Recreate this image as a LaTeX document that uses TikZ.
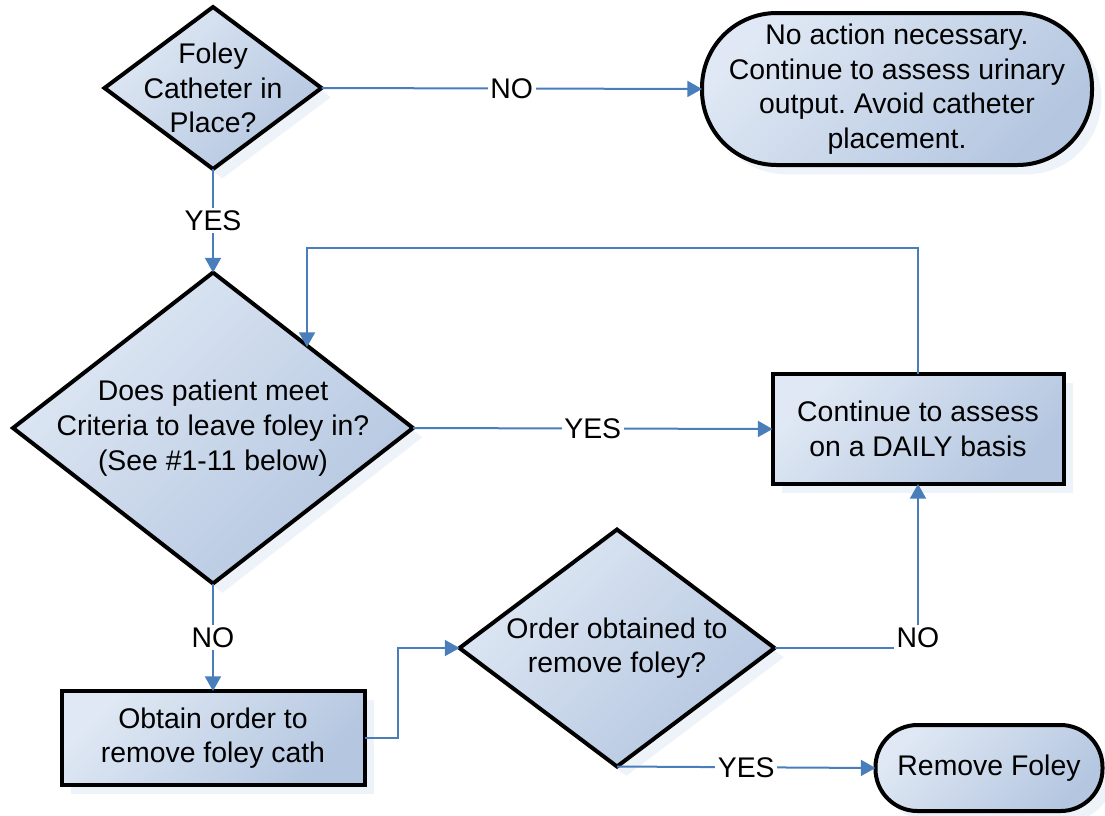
\documentclass[tikz,border=0pt]{standalone}
\usepackage{fontspec}
\setmainfont{Liberation Sans}
\frenchspacing
\usetikzlibrary{shapes.geometric,arrows.meta,shadows}
\definecolor{linec}{HTML}{4A7EBB}
\definecolor{lightc}{HTML}{DFE8F4}
\definecolor{darkc}{HTML}{B4C6E0}
\definecolor{shadowc}{HTML}{EEF2F9}
\begin{document}
\begin{tikzpicture}[x=0.75pt,y=-0.75pt,
  txt/.style={font=\fontsize{21.3}{26}\selectfont, align=center},
  boxbase/.style={draw=black, line width=3pt, outer sep=0pt, inner sep=0pt,
    top color=lightc, bottom color=darkc, shading angle=45,
    drop shadow={fill=shadowc, opacity=1, shadow xshift=7pt, shadow yshift=-7pt}},
  decision/.style={boxbase, diamond, txt},
  process/.style={boxbase, rectangle, txt},
  terminal/.style={boxbase, rectangle, txt},
  conn/.style={draw=linec, line width=1.5pt, -{Triangle[length=11pt,width=12pt]}},
  lbl/.style={fill=white, inner sep=2pt, txt}
]
\useasboundingbox (0,0) rectangle (1105,815);

% nodes
\node[decision, minimum width=217*0.75pt, minimum height=162*0.75pt,
      label={[txt]center:Foley\\Catheter in\\Place?}] (d1) at (213,88) {};
\node[terminal, rounded corners=56pt, minimum width=390*0.75pt, minimum height=152*0.75pt] (noact) at (897,89)
  {No action necessary.\\Continue to assess urinary\\output. Avoid catheter\\placement.};
\node[decision, minimum width=400*0.75pt, minimum height=311*0.75pt,
      label={[txt]center:Does patient meet\\Criteria to leave foley in?\\(See \#1-11 below)}] (d2) at (213,428) {};
\node[process, minimum width=291*0.75pt, minimum height=110*0.75pt] (daily) at (918,429)
  {Continue to assess\\on a DAILY basis};
\node[process, minimum width=303*0.75pt, minimum height=94*0.75pt] (obtain) at (213,738)
  {Obtain order to\\remove foley cath};
\node[decision, minimum width=315*0.75pt, minimum height=237*0.75pt,
      label={[txt]center:Order obtained to\\remove foley?}] (d3) at (617,648) {};
\node[terminal, rounded corners=31.5pt, minimum width=227*0.75pt, minimum height=86*0.75pt] (remove) at (989,768)
  {Remove Foley};

\coordinate (loopend) at (307,347);

% connectors
\draw[conn] (d1.east) -- node[lbl]{NO} (noact.west);
\draw[conn] (d1.south) -- node[lbl]{YES} (d2.north);
\draw[conn] (d2.east) -- node[lbl]{YES} (daily.west);
\draw[conn] (daily.north) -- (daily.north |- 0,248) -| (loopend);
\draw[conn] (d2.south) -- node[lbl]{NO} (obtain.north);
\draw[conn] (obtain.east) -- ++(33,0) |- (d3.west);
\draw[conn] (d3.east) -| node[lbl, pos=0.5, yshift=7.5pt]{NO} (daily.south);
\draw[conn] (d3.south) -- node[lbl]{YES} (remove.west);
\end{tikzpicture}
\end{document}
